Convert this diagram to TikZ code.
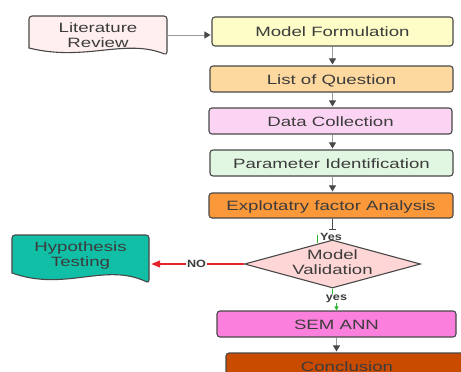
\documentclass[tikz,border=0pt]{standalone}
\usepackage{fontspec}
\newfontfamily\diagfont[FakeStretch=1.38]{Liberation Sans}
\newfontfamily\diagbold[FakeStretch=1.2]{Liberation Sans Bold}
\usetikzlibrary{arrows.meta,shapes.geometric}
\definecolor{edge}{HTML}{484848}
\definecolor{txt}{HTML}{3C3C3C}
\definecolor{lnk}{HTML}{9A9A9A}
\definecolor{cLit}{HTML}{FFEFEE}
\definecolor{cMF}{HTML}{FEFDC8}
\definecolor{cLQ}{HTML}{FDD89F}
\definecolor{cDC}{HTML}{FCD4F3}
\definecolor{cPI}{HTML}{E2F7E1}
\definecolor{cEFA}{HTML}{FA983A}
\definecolor{cVal}{HTML}{FFD6D6}
\definecolor{cSEM}{HTML}{FB80DD}
\definecolor{cCon}{HTML}{C84B00}
\definecolor{cHyp}{HTML}{10BFA6}
\definecolor{cRed}{HTML}{E4262A}
\definecolor{cGreen}{HTML}{2DB336}
\tikzset{
  box/.style={draw=edge, line width=1.1pt, rounded corners=3pt,
    font=\diagfont\fontsize{13.5}{15.5}\selectfont, text=txt,
    inner sep=0pt, text height=11.5pt, text depth=1.5pt},
  doctext/.style={font=\diagfont\fontsize{13.5}{15}\selectfont, text=txt,
    align=center, inner sep=0pt},
  docline/.style={draw=edge, line width=1.1pt},
  flow/.style={draw=lnk, line width=1pt,
    -{Triangle[length=6pt,width=7pt,color=edge]}, shorten >=1pt},
  lbl/.style={font=\diagbold\fontsize{10.5}{12}\selectfont, text=txt,
    fill=white, inner sep=1pt}
}
\begin{document}
\begin{tikzpicture}[x=1pt,y=-1pt]
\useasboundingbox (0,0) rectangle (461,372);
\clip (0,0) rectangle (461,372);

% Literature Review (document shape)
\draw[docline, fill=cLit, rounded corners=3pt] (29,48) -- (29,16) -- (167,16) -- (167,55)
  [sharp corners] .. controls (125,38) and (85,62) .. (29,48) -- cycle;
\node[doctext, minimum width=138pt, minimum height=32pt] (lit) at (98,35) {Literature\\Review};

% Hypothesis Testing (document shape)
\draw[docline, fill=cHyp, rounded corners=3pt] (12,273) -- (12,235) -- (149,235) -- (149,283)
  [sharp corners] .. controls (105,262) and (65,292) .. (12,273) -- cycle;
\node[doctext, minimum width=137pt, minimum height=40pt] (hyp) at (80.5,256) {Hypothesis\\Testing};

% Process boxes
\node[box, fill=cMF, minimum width=241pt, minimum height=29pt] (mf) at (332.5,31.5) {Model Formulation};
\node[box, fill=cLQ, minimum width=243pt, minimum height=26pt] (lq) at (331.5,79) {List of Question};
\node[box, fill=cDC, minimum width=243pt, minimum height=26pt] (dc) at (330.5,121) {Data Collection};
\node[box, fill=cPI, minimum width=243pt, minimum height=26pt] (pi) at (331.5,163) {Parameter Identification};
\node[box, fill=cEFA, minimum width=244pt, minimum height=25pt] (efa) at (331,205.5) {Explotatry factor Analysis};

% Decision
\node[diamond, draw=edge, fill=cVal, line width=1.1pt, minimum width=176pt,
  minimum height=48pt, inner sep=0pt] (val) at (332.5,264) {};
\node[doctext] (valtxt) at (332.5,262.5) {Model\\Validation};

\node[box, fill=cSEM, minimum width=239pt, minimum height=26pt] (sem) at (336.5,324) {SEM ANN};
\node[box, fill=cCon, minimum width=242pt, minimum height=26pt] (con) at (347,366) {Conclusion};

% Connectors
\draw[flow] (lit.east) -- (lit.east -| mf.west);
\draw[flow] (mf.south) -- (lq.north -| mf.south);
\draw[flow] (lq.south -| mf.south) -- (dc.north -| mf.south);
\draw[flow] (dc.south -| mf.south) -- (pi.north -| mf.south);
\draw[flow] (pi.south -| mf.south) -- (efa.north -| mf.south);

\coordinate (efaend) at (332,230);
\draw[draw=edge, line width=1pt, -{Bar[width=7pt,line width=1pt]}] (efa.south -| efaend) -- (efaend);
\coordinate (gtop) at (317.5,235);
\coordinate (gbot) at (317.5,243);
\draw[cGreen, line width=1.3pt] (gtop) -- (gbot);
\node[font=\diagbold\fontsize{10.5}{12}\selectfont, text=txt, inner sep=0pt, anchor=west] (yes1) at (320,237) {Yes};

\draw[cRed, line width=1.2pt, -{Triangle[length=9pt,width=7pt]}, shorten >=2pt] (val.west) -- (val.west -| hyp.east)
  node[lbl, pos=0.5] (nolbl) {NO};

\draw[cGreen, line width=0.8pt, -{Triangle[length=4pt,width=4pt]}] (val.south) -- ++(0,10) -| (sem.north)
  node[lbl, pos=0.5] (yes2) {yes};

\draw[flow] (sem.south) -- (sem.south |- con.north);
\end{tikzpicture}
\end{document}
